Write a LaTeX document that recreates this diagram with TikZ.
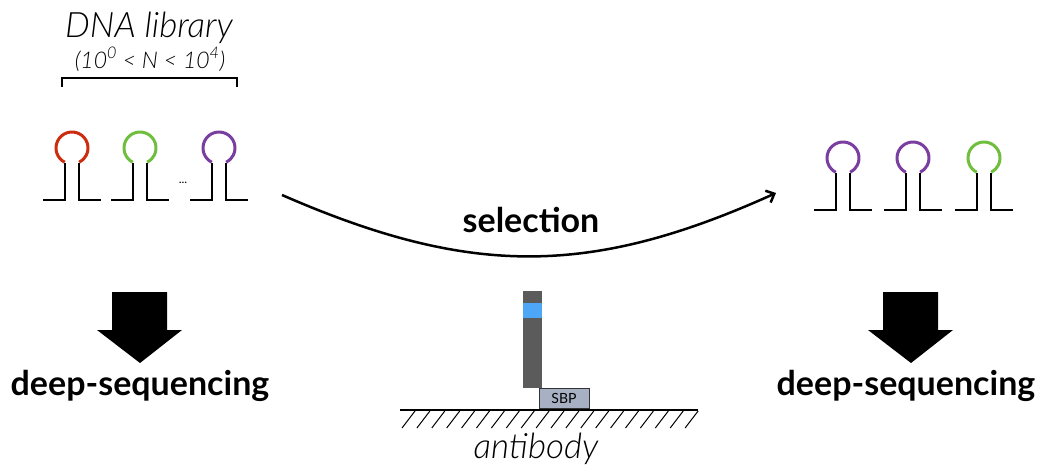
\documentclass[tikz,border=0pt]{standalone}
\usepackage{fontspec}
\setmainfont{Lato}
\newfontfamily\lightit{Lato Light Italic}
\usetikzlibrary{arrows.meta}
\definecolor{loopred}{RGB}{205,45,15}
\definecolor{loopgreen}{RGB}{112,190,62}
\definecolor{looppurple}{RGB}{122,62,160}
\definecolor{abgray}{RGB}{91,91,91}
\definecolor{abblue}{RGB}{78,166,246}
\definecolor{sbpfill}{RGB}{168,176,196}
\definecolor{sbpline}{RGB}{50,50,55}
\begin{document}
\begin{tikzpicture}[x=1pt,y=-1pt,
  hairpin/.pic={
    \draw[line width=3pt,#1] (117:16) arc[start angle=117,end angle=423,radius=16];
    \draw[line width=2pt] (-29,52) -| (-7,14.5) (7,14.5) |- (29,52);
  },
  bigarrow/.pic={
    \fill (-28,0) -- (27,0) -- (27,38) -- (42,38) -- (0,71) -- (-43,38) -- (-28,38) -- cycle;
  },
  boldlabel/.style={font=\bfseries\fontsize{34}{40}\selectfont, anchor=base, inner sep=0pt},
  itlabel/.style={font=\lightit\fontsize{35}{42}\selectfont, anchor=base, inner sep=0pt}
]
\useasboundingbox (0,0) rectangle (1041,471);

% library of hairpins
\node[itlabel] (libtitle) at (149,37) {DNA library};
\node[font=\lightit\fontsize{23}{27}\selectfont, anchor=base, inner sep=0pt] (librange) at (150,68)
  {(10\textsuperscript{0} < N < 10\textsuperscript{4})};
\draw[line width=1.2pt] (62,87) -- (62,78) -- (237,78) -- (237,87);
\pic at (72,148) {hairpin=loopred};
\pic at (140,148) {hairpin=loopgreen};
\pic at (219,148) {hairpin=looppurple};
\node[font=\fontsize{12}{14}\selectfont, anchor=base, inner sep=0pt] (dots) at (183,183) {...};

% selected hairpins
\pic at (843,158) {hairpin=looppurple};
\pic at (913,158) {hairpin=looppurple};
\pic at (984,158) {hairpin=loopgreen};

% selection step
\coordinate (selA) at (282,195);
\coordinate (selB) at (776,193);
\draw[line width=2.5pt, -{Straight Barb[length=7pt,width=13pt]}]
  (selA) .. controls (470,277) and (590,277) .. (selB);
\node[boldlabel] (sel) at (531,232) {selection};

% sequencing
\pic at (140,292) {bigarrow};
\pic at (911,292) {bigarrow};
\node[boldlabel] (seqL) at (140,395) {deep-sequencing};
\node[boldlabel] (seqR) at (906,395) {deep-sequencing};

% antibody on surface
\fill[abgray] (523,291) rectangle (542,388);
\fill[abblue] (523,303) rectangle (542,318);
\node[draw=sbpline, line width=1pt, fill=sbpfill, minimum width=50pt, minimum height=20pt,
  inner sep=0pt, font=\fontsize{14}{16}\selectfont] (sbp) at (564,398) {SBP};
\draw[line width=1.5pt] (400,410) -- (698,410);
\foreach \i in {0,...,19}
  \draw[line width=1pt] ({415+14.9*\i},411) -- ++(-13,17);
\node[itlabel] (ab) at (536,458) {antibody};
\end{tikzpicture}
\end{document}
